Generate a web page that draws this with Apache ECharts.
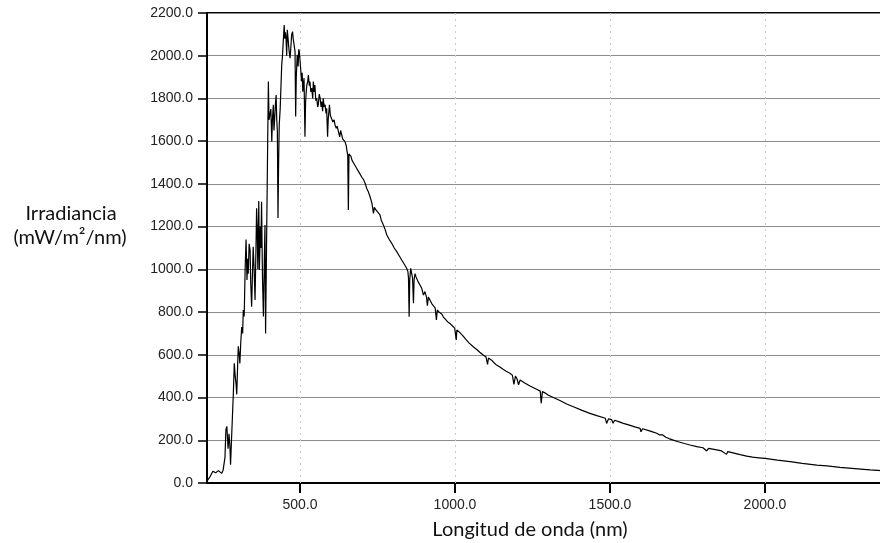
<!DOCTYPE html>
<html>
<head>
<meta charset="utf-8">
<script src="https://cdn.jsdelivr.net/npm/echarts@6/dist/echarts.min.js"></script>
<style>
html,body{margin:0;padding:0;background:#fff;overflow:hidden;}
#chart{width:890px;height:543px;}
</style>
</head>
<body>
<div id="chart"></div>
<script>
// Wavelength (nm)
const wavelengths = [
200,210,219,228,237,247,252,258,261,264,268,271,274,276,279,282,285,288,291,294,296,299,301,304,306,309,312,315,317,320,
323,326,329,331,333,336,339,341,344,347,349,352,355,358,360,362,364,367,369,372,374,376,379,382,385,387,389,392,395,398,
400,403,406,409,411,414,416,419,421,423,425,427,429,431,433,436,438,441,443,446,449,451,453,455,457,459,461,464,466,468,
471,473,476,478,481,484,486,488,491,494,496,498,500,502,505,507,509,511,513,516,518,520,522,525,527,530,532,535,538,541,
543,546,548,551,554,557,559,562,565,568,570,573,575,578,581,584,586,589,591,595,598,602,606,610,613,617,620,624,628,631,
634,638,642,645,649,652,654,656,658,661,664,668,672,676,680,684,688,694,700,705,710,715,720,726,732,737,740,745,750,758,
762,765,769,775,780,788,796,804,812,820,828,836,844,848,850,852,854,857,860,863,866,868,871,874,880,887,893,898,903,908,
911,914,919,925,930,936,940,943,948,952,958,962,970,978,985,992,999,1004,1006,1015,1025,1035,1045,1059,1070,1080,1091,1100,1105,1108,
1118,1126,1134,1145,1155,1165,1177,1185,1190,1195,1200,1205,1210,1225,1242,1260,1275,1278,1282,1290,1300,1317,1340,1360,1382,1410,1435,1460,1485,1489,
1495,1505,1510,1515,1530,1543,1560,1580,1597,1600,1605,1625,1640,1651,1660,1670,1680,1690,1704,1720,1740,1758,1780,1800,1812,1818,1840,1860,1876,1880,
1900,1920,1941,1960,1980,2000,2040,2081,2120,2167,2200,2242,2290,2339,2400
];
// Spectral irradiance (mW/m2/nm)
const irradiance = [
8,30,55,48,58,45,60,120,250,265,160,230,170,85,200,310,420,560,500,460,415,560,640,600,560,660,730,700,810,780,
1000,1140,950,1050,980,1120,1090,940,825,1000,1106,1000,857,1100,1286,1184,1000,1320,997,1200,1100,1317,960,779,1050,1208,700,1100,1500,1879,
1700,1691,1750,1598,1700,1770,1650,1723,1780,1816,1700,1645,1240,1500,1676,1750,1832,1957,1990,2066,2144,2080,2110,2082,2000,2121,2090,2035,2010,1988,
2050,2097,2113,2080,2051,2019,1715,1900,2004,1950,2030,2019,1980,1941,1880,1920,1832,1870,1895,1621,1780,1830,1863,1880,1910,1860,1879,1830,1848,1800,
1879,1830,1863,1790,1801,1760,1770,1820,1801,1760,1785,1740,1801,1760,1770,1730,1754,1621,1700,1770,1720,1723,1690,1700,1676,1660,1670,1645,1620,1650,
1645,1610,1606,1598,1580,1550,1536,1278,1540,1536,1530,1510,1500,1490,1480,1470,1460,1457,1430,1420,1403,1380,1365,1340,1310,1262,1290,1278,1270,1255,
1230,1220,1208,1185,1161,1140,1122,1100,1083,1064,1044,1025,1005,990,960,778,950,1005,997,960,841,950,980,966,945,927,910,880,896,870,
830,870,857,840,830,820,763,810,800,805,790,778,765,752,745,735,725,670,716,705,690,672,656,638,625,612,599,590,555,585,
575,563,552,543,532,523,514,505,462,500,488,460,482,468,454,441,430,373,428,422,412,400,385,370,357,340,326,314,303,279,
300,297,280,294,286,279,272,263,256,240,254,245,238,233,225,225,214,208,201,193,185,178,170,165,150,162,156,150,134,147,
140,133,126,121,118,115,107,100,92,84,80,73,67,61,56
];
// Axis ticks
const xTickValues = [500, 1000, 1500, 2000];
const yMin = 0, yMax = 2200, yStep = 200;
const xMin = 200, xMax = 2400;
const yTitleLines = ['Irradiancia', '(mW/m\u00B2/nm)'];
const xTitle = 'Longitud de onda (nm)';

const seriesData = wavelengths.map((w, i) => [w, irradiance[i]]);

const chart = echarts.init(document.getElementById('chart'), null, {renderer: 'canvas'});
const labelFont = {fontFamily: '"Liberation Sans", Arial, sans-serif', fontSize: 14, color: '#222'};

chart.setOption({
  animation: false,
  backgroundColor: '#fff',
  grid: {left: 207, top: 13, right: 1, bottom: 60, show: true, borderColor: '#000', borderWidth: 2, backgroundColor: 'transparent'},
  xAxis: {
    type: 'value', min: xMin, max: xMax,
    axisLine: {show: true, onZero: false, lineStyle: {color: '#000', width: 2}},
    axisTick: {show: true, customValues: xTickValues, length: 10, inside: false, lineStyle: {color: '#000', width: 2}},
    axisLabel: Object.assign({customValues: xTickValues, margin: 15, formatter: v => v.toFixed(1)}, labelFont),
    splitLine: {show: false}
  },
  yAxis: {
    type: 'value', min: yMin, max: yMax, interval: yStep,
    axisLine: {show: true, lineStyle: {color: '#000', width: 2}},
    axisTick: {show: true, length: 9, lineStyle: {color: '#000', width: 1.5}},
    axisLabel: Object.assign({margin: 14, formatter: v => v.toFixed(1)}, labelFont),
    splitLine: {show: true, lineStyle: {color: '#8c8c8c', width: 1}}
  },
  graphic: [
    {type: 'text', x: 71, y: 214, style: {text: yTitleLines[0], textAlign: 'center', textVerticalAlign: 'middle', font: '20px Lato, "Open Sans", sans-serif', fill: '#111'}},
    {type: 'text', x: 70, y: 238, style: {text: yTitleLines[1], textAlign: 'center', textVerticalAlign: 'middle', font: '20px Lato, "Open Sans", sans-serif', fill: '#111'}},
    {type: 'text', x: 530, y: 530, style: {text: xTitle, textAlign: 'center', textVerticalAlign: 'middle', font: '20px Lato, "Open Sans", sans-serif', fill: '#111'}}
  ],
  series: [{
    type: 'line',
    data: seriesData,
    showSymbol: false,
    symbol: 'none',
    lineStyle: {color: '#000', width: 1.2},
    z: 5,
    markLine: {
      silent: true, symbol: 'none', label: {show: false},
      lineStyle: {color: '#c8c8c8', type: [2, 4], width: 1},
      data: xTickValues.map(v => ({xAxis: v}))
    }
  }]
});
</script>
</body>
</html>
